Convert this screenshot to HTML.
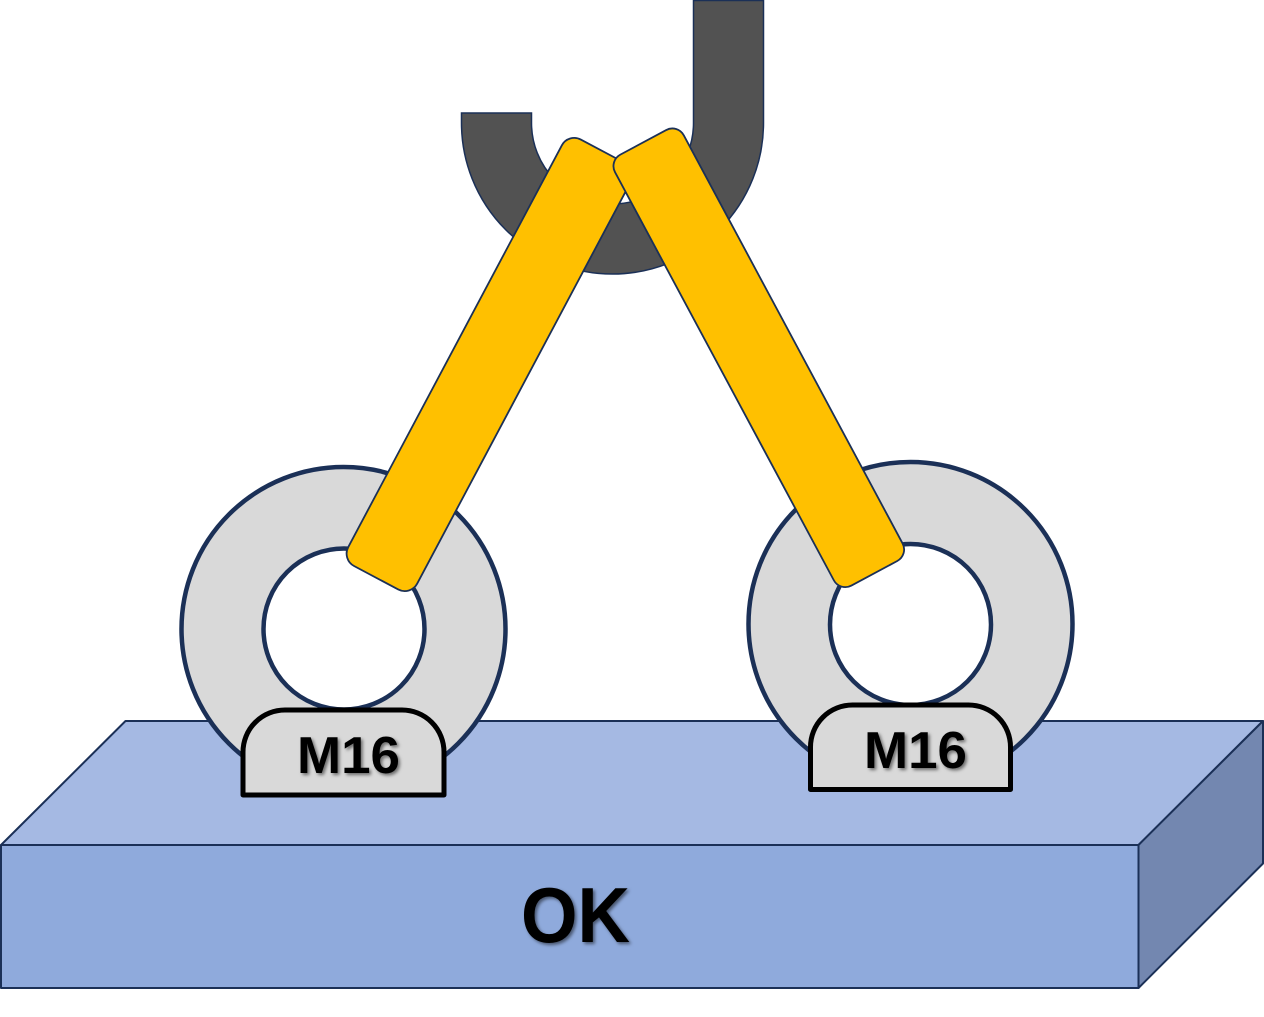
<!DOCTYPE html>
<html lang="en">
<head>
<meta charset="utf-8">
<title>M16 lifting diagram - OK</title>
<style>
html,body{margin:0;padding:0;background:#fff;width:1264px;height:1017px;overflow:hidden}
svg{display:block}
text{font-family:"Liberation Sans",Arial,sans-serif;font-weight:700;fill:#000}
</style>
</head>
<body>
<svg width="1264" height="1017" viewBox="0 0 1264 1017" xmlns="http://www.w3.org/2000/svg">
<defs>
<filter id="s" x="-20%" y="-30%" width="140%" height="160%">
<feDropShadow dx="2" dy="2" stdDeviation="1.6" flood-color="#000" flood-opacity=".5"/>
</filter>
</defs>

<!-- base block -->
<g stroke="#1b3057" stroke-width="2" stroke-linejoin="round">
<polygon points="1,845 125.500,721 1263,721 1138.500,845" fill="#a5b9e3"/>
<polygon points="1138.500,845 1263,721 1263,863.500 1138.500,988" fill="#7387b0"/>
<rect x="1" y="845" width="1137.500" height="143" fill="#8faadc"/>
</g>

<!-- hook -->
<path d="M461.500 113H531.500V123A81 81 0 0 0 693.500 123V0.500H763.500V123A151 151 0 0 1 461.500 123Z" fill="#525252" stroke="#1b3057" stroke-width="1.500"/>

<!-- rings -->
<g stroke="#1b3057" stroke-width="4.500">
<circle cx="343.500" cy="629" r="162" fill="#d9d9d9"/>
<circle cx="344" cy="629" r="80.500" fill="#fff"/>
<circle cx="910.500" cy="624" r="162" fill="#d9d9d9"/>
<circle cx="910.500" cy="624.500" r="80.500" fill="#fff"/>
</g>

<!-- straps -->
<g fill="#ffc000" stroke="#1b3057" stroke-width="1.800">
<rect x="-39" y="-241.500" width="78" height="483" rx="14" ry="14" transform="translate(489.500 364.500) rotate(28)"/>
<rect x="-39" y="-244.500" width="78" height="489" rx="13" ry="13" transform="translate(758.800 357.800) rotate(-28.200)"/>
</g>

<!-- caps -->
<g fill="#d9d9d9" stroke="#000" stroke-width="5" stroke-linejoin="round">
<path d="M243 795V752A42 42 0 0 1 285 710H402A42 42 0 0 1 444 752V795Z"/>
<path d="M810.500 789.500V747A42 42 0 0 1 852.500 705H968.500A42 42 0 0 1 1010.500 747V789.500Z"/>
</g>

<!-- labels -->
<g filter="url(#s)">
<text x="297" y="773" font-size="52" textLength="103" lengthAdjust="spacingAndGlyphs">M16</text>
<text x="864" y="768" font-size="52" textLength="103" lengthAdjust="spacingAndGlyphs">M16</text>
<text x="521" y="942" font-size="78" textLength="109" lengthAdjust="spacingAndGlyphs">OK</text>
</g>
</svg>
</body>
</html>
